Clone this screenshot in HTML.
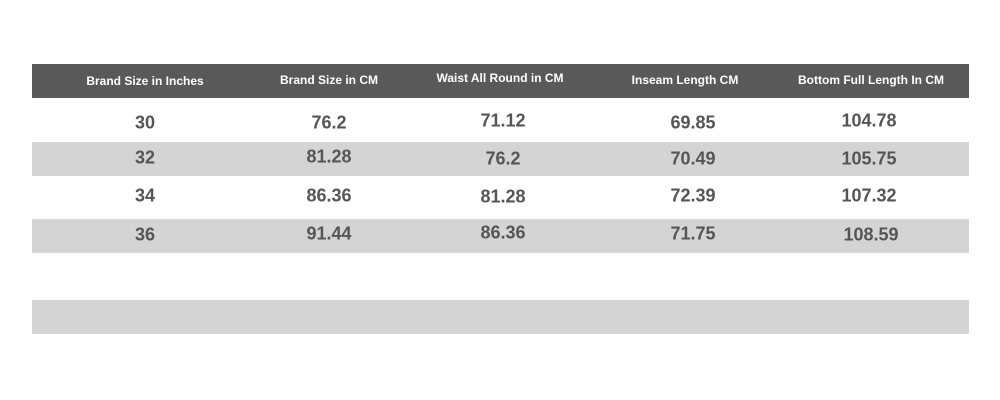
<!DOCTYPE html>
<html><head><style>
body{margin:0;width:1000px;height:400px;background:#fff;position:relative;overflow:hidden;font-family:"Liberation Sans",sans-serif}
.b{position:absolute;left:32px;width:937px}
.t{position:absolute;transform:translate(-50%,-50%);white-space:nowrap;font-weight:bold}
.h{color:#fff;font-size:12px}
.v{color:#555;font-size:18px}
</style></head><body>
<div class="b" style="top:64px;height:34px;background:#595959"></div>
<div class="b" style="top:142px;height:34px;background:#d4d4d4"></div>
<div class="b" style="top:219px;height:34px;background:#d4d4d4"></div>
<div class="b" style="top:300px;height:34px;background:#d4d4d4"></div>
<div class="t h" style="left:145px;top:81px">Brand Size in Inches</div>
<div class="t h" style="left:329px;top:80px">Brand Size in CM</div>
<div class="t h" style="left:500px;top:78px">Waist All Round in CM</div>
<div class="t h" style="left:685px;top:80px">Inseam Length CM</div>
<div class="t h" style="left:871px;top:80px">Bottom Full Length In CM</div>

<div class="t v" style="left:145px;top:123px">30</div>
<div class="t v" style="left:329px;top:123px">76.2</div>
<div class="t v" style="left:503px;top:121px">71.12</div>
<div class="t v" style="left:693px;top:123px">69.85</div>
<div class="t v" style="left:869px;top:121px">104.78</div>

<div class="t v" style="left:145px;top:158px">32</div>
<div class="t v" style="left:329px;top:157px">81.28</div>
<div class="t v" style="left:503px;top:159px">76.2</div>
<div class="t v" style="left:693px;top:159px">70.49</div>
<div class="t v" style="left:869px;top:159px">105.75</div>

<div class="t v" style="left:145px;top:196px">34</div>
<div class="t v" style="left:329px;top:196px">86.36</div>
<div class="t v" style="left:503px;top:197px">81.28</div>
<div class="t v" style="left:693px;top:196px">72.39</div>
<div class="t v" style="left:869px;top:196px">107.32</div>

<div class="t v" style="left:145px;top:235px">36</div>
<div class="t v" style="left:329px;top:234px">91.44</div>
<div class="t v" style="left:503px;top:233px">86.36</div>
<div class="t v" style="left:693px;top:234px">71.75</div>
<div class="t v" style="left:871px;top:235px">108.59</div>
</body></html>
